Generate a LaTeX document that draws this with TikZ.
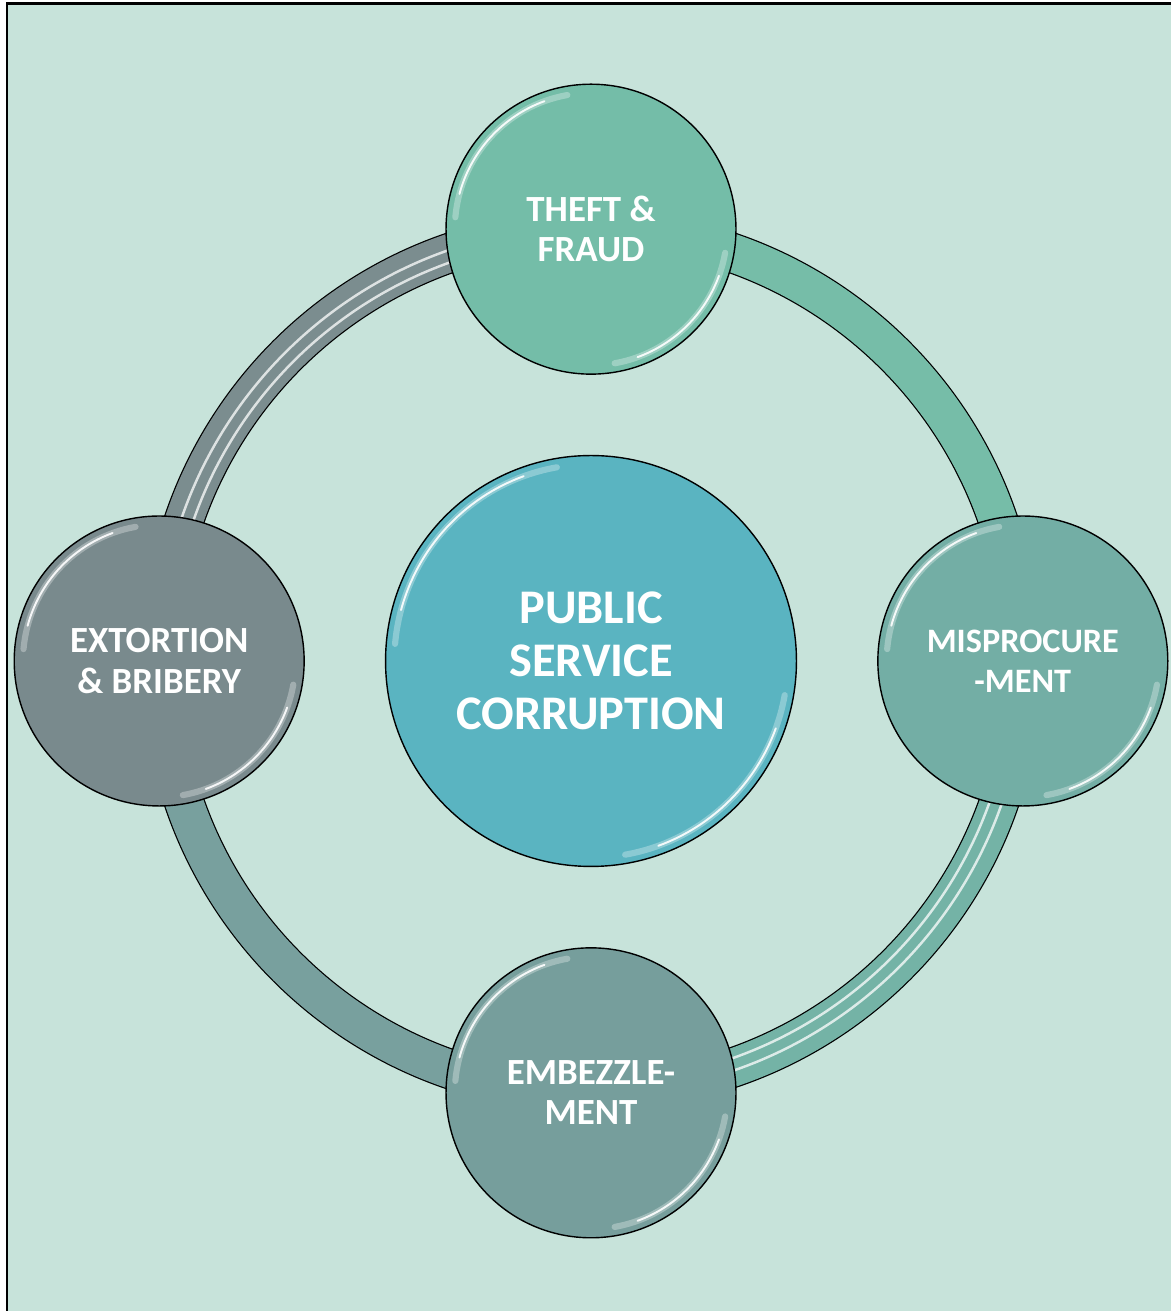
\documentclass[tikz,border=0pt]{standalone}
\usepackage{fontspec}
\setmainfont{Carlito}
\usetikzlibrary{positioning,calc,backgrounds}

\definecolor{paper}{HTML}{C7E3DA}
\definecolor{hubcol}{HTML}{5AB4C1}
\definecolor{theftcol}{HTML}{74BDA8}
\definecolor{misproccol}{HTML}{73AEA5}
\definecolor{embezzcol}{HTML}{769E9C}
\definecolor{extortcol}{HTML}{798A8D}
\definecolor{arcgray}{HTML}{7B8D8F}
\definecolor{arcgreen}{HTML}{76BDA8}
\definecolor{arcteal}{HTML}{74B3A6}
\definecolor{arcslate}{HTML}{78A09E}

\begin{document}
\begin{tikzpicture}[x=0.02cm,y=0.02cm,
orb/.style={circle,draw=black,line width=0.8pt,fill=#1,minimum size=5.8cm,inner sep=0pt,
    text=white,align=center,font=\bfseries\fontsize{21}{23}\selectfont,
    path picture={
      \draw[white,line width=3.5pt,opacity=.3,line cap=round]
        let \p1=(path picture bounding box.east), \p2=(path picture bounding box.center),
            \n1={\x1-\x2-5pt} in
        (\p2) ++(100:\n1) arc[start angle=100,end angle=175,radius=\n1]
        (\p2) ++(-10:\n1) arc[start angle=-10,end angle=-80,radius=\n1];
      \draw[white,line width=1.1pt,opacity=.9,line cap=round]
        let \p1=(path picture bounding box.east), \p2=(path picture bounding box.center),
            \n1={\x1-\x2-5pt} in
        (\p2) ++(110:\n1) arc[start angle=110,end angle=165,radius=\n1]
        (\p2) ++(-20:\n1) arc[start angle=-20,end angle=-70,radius=\n1];
    }},
ring/.style={draw=black,line width=0.7pt,double=#1,double distance=0.76cm},
shine/.style={white,line width=1.4pt,opacity=.75,line cap=round}]

\useasboundingbox (0,0) rectangle (1171,1311);

% centre and the four kinds
\node (hub) [orb=hubcol,minimum size=8.22cm,font=\bfseries\fontsize{27.5}{30}\selectfont]
    at (591,650) {PUBLIC\\SERVICE\\CORRUPTION};
\node (theft) [orb=theftcol,above=1.6cm of hub] {THEFT \&\\FRAUD};
\node (misproc) [orb=misproccol,right=1.6cm of hub,
    font=\bfseries\fontsize{19.5}{23}\selectfont] {MISPROCURE\\-MENT};
\node (embezz) [orb=embezzcol,below=1.6cm of hub] {EMBEZZLE-\\MENT};
\node (extort) [orb=extortcol,left=1.6cm of hub] {EXTORTION\\\& BRIBERY};

\begin{pgfonlayer}{background}
\fill[paper] (7,0) rectangle (1171,1307);
\draw[line width=0.06cm] (7,0) -- (7,1307) -- (1171,1307);

% ring pieces
\draw[ring=arcgray] (theft.center) arc[start angle=90,end angle=180,radius=8.6cm];
\draw[ring=arcgreen] (theft.center) arc[start angle=90,end angle=0,radius=8.6cm];
\draw[ring=arcteal] (misproc.center) arc[start angle=0,end angle=-90,radius=8.6cm];
\draw[ring=arcslate] (embezz.center) arc[start angle=270,end angle=180,radius=8.6cm];

\draw[shine] (theft.center) ++(0,3) arc[start angle=90,end angle=180,radius=8.66cm];
\draw[shine] (theft.center) ++(0,-9) arc[start angle=90,end angle=180,radius=8.42cm];
\draw[shine] (misproc.center) ++(3,0) arc[start angle=0,end angle=-90,radius=8.66cm];
\draw[shine] (misproc.center) ++(-9,0) arc[start angle=0,end angle=-90,radius=8.42cm];
\end{pgfonlayer}
\end{tikzpicture}
\end{document}
